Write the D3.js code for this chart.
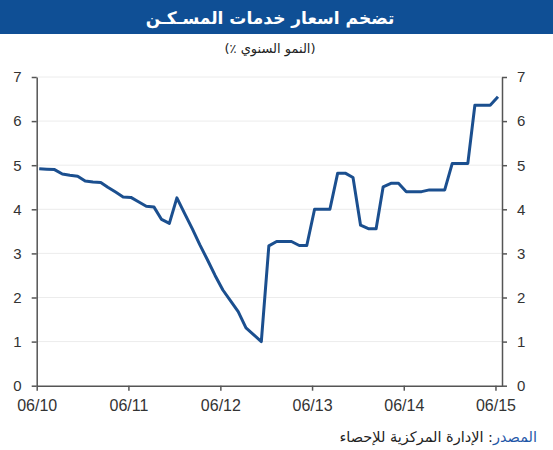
<!doctype html>
<html>
<head>
<meta charset="utf-8">
<script src="https://d3js.org/d3.v7.min.js"></script>
<style>
  body { margin: 0; background: #fff; }
  svg text { font-family: "Liberation Sans", Arial, sans-serif; }
</style>
</head>
<body>
<svg id="chart" width="553" height="450"></svg>
<script>
  // monthly data, Jun 2010 - Jun 2015 (61 months)
  var months = d3.timeMonths(new Date(2010, 5, 1), new Date(2015, 6, 1));
  var values = [4.92, 4.91, 4.90, 4.80, 4.77, 4.75, 4.64, 4.62, 4.61, 4.50,
                4.39, 4.28, 4.27, 4.17, 4.07, 4.05, 3.77, 3.68, 4.26, 3.90,
                3.55, 3.20, 2.85, 2.50, 2.17, 1.93, 1.68, 1.31, 1.16, 1.00,
                3.17, 3.27, 3.27, 3.27, 3.18, 3.18, 4.00, 4.00, 4.00, 4.82,
                4.82, 4.72, 3.64, 3.56, 3.56, 4.51, 4.59, 4.59, 4.40, 4.40,
                4.40, 4.44, 4.44, 4.44, 5.04, 5.04, 5.04, 6.36, 6.36, 6.36,
                6.55];
  var xTickDates = [new Date(2010, 5, 1), new Date(2011, 5, 1), new Date(2012, 5, 1),
                    new Date(2013, 5, 1), new Date(2014, 5, 1), new Date(2015, 5, 1)];
  var xTickLabels = ["06/10", "06/11", "06/12", "06/13", "06/14", "06/15"];
  var yTicks = [0, 1, 2, 3, 4, 5, 6, 7];

  var title = "تضخم اسعار خدمات المسـكـن";
  // LRM marks keep the percent sign next to the opening bracket
  var subtitle = "(\u200E٪\u200E النمو السنوي)";
  var sourceLabel = "المصدر";
  var sourceText = ": الإدارة المركزية للإحصاء";

  // points sit about a third of a month after the month tick
  var data = months.map(function(d, i) {
    return {date: d3.timeDay.offset(d, 10), value: values[i]};
  });

  var svg = d3.select("#chart");
  var margin = {left: 36.7, right: 502, top: 77, bottom: 385.7};

  var xScale = d3.scaleTime()
                 .domain([new Date(2010, 5, 1), new Date(2015, 5, 27)])
                 .range([margin.left, margin.right]);
  var yScale = d3.scaleLinear()
                 .domain([0, 7])
                 .range([margin.bottom, margin.top]);

  // title bar
  svg.append("rect")
     .attr("x", 0).attr("y", 0)
     .attr("width", 553).attr("height", 34)
     .attr("fill", "#0f4f95");
  svg.append("text")
     .attr("x", 270).attr("y", 24)
     .attr("text-anchor", "middle")
     .attr("fill", "#fff")
     .style("font-family", "'DejaVu Sans', sans-serif")
     .style("font-size", "17px")
     .style("font-weight", "bold")
     .text(title);
  svg.append("text")
     .attr("x", 270).attr("y", 53)
     .attr("text-anchor", "middle")
     .attr("fill", "#222")
     .style("font-family", "'DejaVu Sans', sans-serif")
     .style("font-size", "13px")
     .text(subtitle);

  // grid
  svg.append("g")
     .selectAll("line")
     .data(yTicks.slice(1))
     .enter()
     .append("line")
       .attr("x1", margin.left).attr("x2", margin.right)
       .attr("y1", d => yScale(d)).attr("y2", d => yScale(d))
       .attr("stroke", "#ececec")
       .attr("stroke-width", 1);

  // axes
  var yAxisL = d3.axisLeft(yScale).tickValues(yTicks).tickFormat(d3.format("d"))
                 .tickSize(5).tickSizeOuter(0).tickPadding(10);
  var yAxisR = d3.axisRight(yScale).tickValues(yTicks).tickFormat(d3.format("d"))
                 .tickSize(5).tickSizeOuter(0).tickPadding(10);
  var xAxis = d3.axisBottom(xScale).tickValues(xTickDates).tickSize(5).tickSizeOuter(0).tickPadding(9)
                .tickFormat((d, i) => xTickLabels[i]);

  svg.append("g")
     .attr("id", "yAxisL")
     .attr("transform", "translate(" + margin.left + ",0)")
     .call(yAxisL);
  svg.append("g")
     .attr("id", "yAxisR")
     .attr("transform", "translate(" + margin.right + ",0)")
     .call(yAxisR);
  svg.append("g")
     .attr("id", "xAxisG")
     .attr("transform", "translate(0," + margin.bottom + ")")
     .call(xAxis);

  svg.selectAll(".domain, .tick line").attr("stroke", "#555").attr("stroke-width", 1.5);
  svg.selectAll("#yAxisL text, #yAxisR text")
     .attr("fill", "#333").style("font-size", "15px");
  svg.select("#xAxisG").selectAll("text")
     .attr("fill", "#333").style("font-size", "16px");

  // line
  var line = d3.line()
               .x(d => xScale(d.date))
               .y(d => yScale(d.value));
  svg.append("path")
     .datum(data)
     .attr("d", line)
     .attr("fill", "none")
     .attr("stroke", "#1b4f8f")
     .attr("stroke-width", 3)
     .attr("stroke-linejoin", "round");

  // source
  var src = svg.append("text")
     .attr("x", 537).attr("y", 442)
     .attr("direction", "rtl")
     .attr("text-anchor", "start")
     .style("font-family", "'DejaVu Sans', sans-serif")
     .style("font-size", "14.5px");
  src.append("tspan").attr("fill", "#1f57a8").text(sourceLabel);
  src.append("tspan").attr("fill", "#222").text(sourceText);
</script>
</body>
</html>
